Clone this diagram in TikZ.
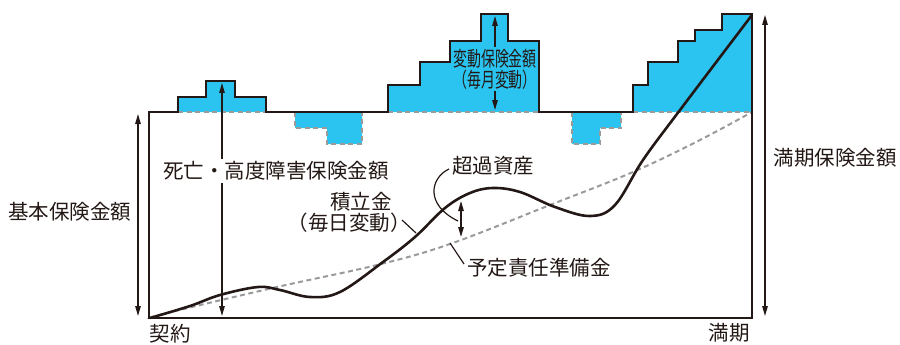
\documentclass[tikz,border=0pt]{standalone}
\usepackage{fontspec}
\setmainfont{Noto Sans CJK JP}
\usetikzlibrary{arrows.meta}
\definecolor{ink}{HTML}{231815}
\definecolor{fillblue}{HTML}{2BC4F0}
\definecolor{dashgray}{HTML}{9A9A9A}
\tikzset{
  lbl/.style={font=\fontsize{20.5}{21}\selectfont, text=ink, inner sep=0pt},
  thickline/.style={draw=ink, line width=2.6pt, line join=miter},
  grayline/.style={draw=dashgray, line width=2pt, dash pattern=on 5pt off 3.5pt},
  dimarrow/.style={draw=ink, line width=1.3pt, {Triangle[length=10pt,width=5.5pt]}-{Triangle[length=10pt,width=5.5pt]}},
  leader/.style={draw=ink, line width=1.2pt},
  bluefill/.style={fill=fillblue, draw=none}
}
\begin{document}
\begin{tikzpicture}[x=1pt,y=-1pt]
\useasboundingbox (0,0) rectangle (900,345);
% blue fills
\fill[bluefill] (178,112)--(178,97)--(206,97)--(206,81)--(235,81)--(235,97)--(266,97)--(266,112)--cycle;
\fill[bluefill] (388,112)--(388,85)--(420,85)--(420,62)--(450,62)--(450,41)--(481,41)--(481,14)--(508,14)--(508,41)--(539,41)--(539,112)--cycle;
\fill[bluefill] (633,112)--(633,85)--(648,85)--(648,62)--(678,62)--(678,41)--(695,41)--(695,30)--(722,30)--(722,14)--(752,14)--(752,112)--cycle;
\fill[bluefill] (295,112)--(295,128)--(327,128)--(327,144)--(362,144)--(362,112)--cycle;
\fill[bluefill] (572,112)--(572,144)--(600,144)--(600,128)--(621,128)--(621,112)--cycle;
% gray dashed edges
\draw[grayline] (178,112)--(266,112);
\draw[grayline] (388,112)--(539,112);
\draw[grayline] (633,112)--(752,112);
\draw[grayline] (295,112)--(295,128)--(327,128)--(327,144)--(362,144)--(362,112);
\draw[grayline] (572,112)--(572,144)--(600,144)--(600,128)--(621,128)--(621,112);
% reserve curve
\draw[grayline] plot[smooth, tension=0.6] coordinates {(150,318) (167,313) (277,287) (377,265) (450,244) (550,205) (633,172) (700,140) (752,112)};
% outline
\draw[thickline] (149,318)--(149,112)--(178,112)--(178,97)--(206,97)--(206,81)--(235,81)--(235,97)--(266,97)--(266,112)
  --(388,112)--(388,85)--(420,85)--(420,62)--(450,62)--(450,41)--(481,41)--(481,14)--(508,14)--(508,41)--(539,41)--(539,112)
  --(633,112)--(633,85)--(648,85)--(648,62)--(678,62)--(678,41)--(695,41)--(695,30)--(722,30)--(722,14)--(752,14)--(752,318)--cycle;
% accumulated fund curve
\draw[thickline, line join=round] plot[smooth, tension=0.6] coordinates {(150,318) (190,306) (220,295) (258,287) (280,290) (310,297) (340,292) (383,262) (415,237) (445,208) (470,193) (493,188) (520,192) (555,207) (590,216) (615,205) (643,160) (680,110) (752,15)};
% coordinates for arrows
\coordinate (kTop) at (138,114);
\coordinate (kBot) at (138,316);
\coordinate (sTop) at (222,83);
\coordinate (sBot) at (222,316);
\coordinate (hTop) at (495,16);
\coordinate (hBot) at (495,110);
\coordinate (cTop) at (461,201);
\coordinate (cBot) at (461,237);
\coordinate (mTop) at (765,15);
\coordinate (mBot) at (765,316);
\draw[dimarrow] (kTop)--(kBot);
\draw[dimarrow] (sBot)--(sTop);
\draw[dimarrow] (hTop)--(hBot);
\draw[dimarrow] (cTop)--(cBot);
\draw[dimarrow] (mTop)--(mBot);
% labels
\node[lbl] (kihon) at (70,212) {基本保険金額};
\node[lbl, fill=white, inner ysep=3pt] (shibo) at (276,171) {死亡・高度障害保険金額};
\node[lbl, fill=fillblue, align=center, inner ysep=2pt] (hendo) at (495,69) {\scalebox{0.68}[1]{変動保険金額}\\\scalebox{0.68}[1]{（毎月変動）}};
\node[lbl] (tsumi) at (361,202) {積立金};
\node[lbl] (tsumi2) at (349,223) {（毎日変動）};
\node[lbl] (choka) at (493,166) {超過資産};
\node[lbl] (yotei) at (539,268) {予定責任準備金};
\node[lbl] (manki) at (835,158) {満期保険金額};
\node[lbl] (keiyaku) at (170,334) {契約};
\node[lbl] (mankiB) at (729,333) {満期};
% leaders
\coordinate (tsumiEnd) at (416,233);
\coordinate (tsumiStart) at (402,220);
\draw[leader] (tsumiStart)--(tsumiEnd);
\coordinate (yoteiA) at (450,243);
\coordinate (yoteiB) at (464,264);
\draw[leader] (yoteiA)--(yoteiB);
\coordinate (chokaA) at (449,169);
\coordinate (chokaB) at (458,221);
\draw[leader] (chokaA) .. controls (430,178) and (425,205) .. (chokaB);
\end{tikzpicture}
\end{document}
